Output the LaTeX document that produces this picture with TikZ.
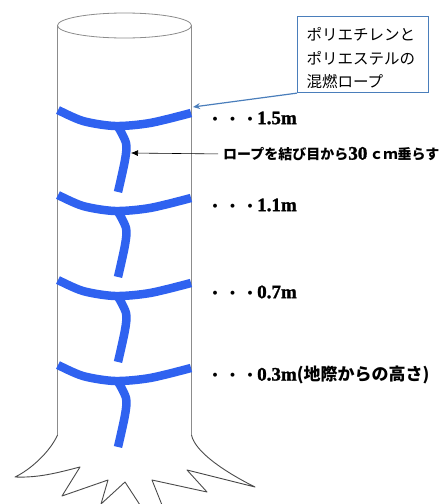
\documentclass[tikz,border=0pt]{standalone}
\usepackage{fontspec}
\setmainfont{Liberation Serif}
\newfontfamily\jpfont{Noto Sans CJK JP}
\newfontfamily\numfont{Liberation Serif}[BoldFeatures={FakeBold=1.5}]
\usetikzlibrary{arrows.meta}

\definecolor{ropeblue}{HTML}{2F62F0}
\definecolor{calloutblue}{HTML}{4A7EBB}
\definecolor{bark}{HTML}{8C8C8C}
\definecolor{rootline}{HTML}{4A4A4A}

\newcommand{\jpbold}{\jpfont\bfseries\fontsize{14}{16}\selectfont}
\newcommand{\numbold}{\numfont\bfseries\fontsize{19}{20}\selectfont}
\newcommand{\lvl}[1]{{\jpbold ・\kern3.5pt・\kern3.5pt・}{\numbold #1}}

\tikzset{
  ropeline/.style={draw=ropeblue, line width=8.5pt},
  height/.style={anchor=west, inner sep=0pt},
}

\begin{document}
\begin{tikzpicture}[x=1pt,y=-1pt]
  \useasboundingbox (0,0) rectangle (445,504);
  % trunk
  \draw[bark, line width=0.8pt] (124.5,25.5) ellipse [x radius=67pt, y radius=12.5pt];
  \draw[bark, line width=0.8pt] (57.5,25.5) -- (57.5,435) (191.5,25.5) -- (191.5,435);
  % roots
  \draw[rootline, line width=0.9pt, line join=round]
    (57.5,435) .. controls (50,452) and (30,470) .. (15,477)
    .. controls (40,478) and (60,472) .. (80,467) -- (62,496) -- (108,480)
    -- (101,504) -- (125,482) -- (140,505)
    (162,505) -- (152,480) -- (207,492) -- (187,470) -- (255,487)
    .. controls (225,472) and (195,452) .. (191.5,435);
  % ropes, one every 85pt
  \foreach \dy in {0,85,170,255} {
    \begin{scope}[shift={(0,\dy)}]
      \draw[ropeline] plot[smooth] coordinates {(58,110) (83,121) (115,126) (150,123) (191,113)};
      \draw[ropeline] plot[smooth] coordinates {(117,125) (126,143) (125,160) (118,192)};
    \end{scope}
  }
  % heights
  \node[height] (h15) at (208,118) {\lvl{1.5m}};
  \node[height] (h11) at (208,205) {\lvl{1.1m}};
  \node[height] (h07) at (208,292) {\lvl{0.7m}};
  \node[height] (h03) at (208,375)
    {\lvl{0.3m}{\jpfont\bfseries\fontsize{17}{19}\selectfont (地際からの高さ)}};
  % hanging end
  \coordinate (knot) at (131,153);
  \node[height] (drop) at (223,154) {\jpbold ロープを結び目から{\numbold 30}\,ｃｍ垂らす};
  \draw[-{Latex[length=7pt,width=6pt]}, line width=0.6pt, shorten <=5pt] (drop.west) -- (knot);
  % material note
  \coordinate (ropeend) at (193,107);
  \node[draw=calloutblue, line width=1.2pt, anchor=north west, minimum width=131pt,
        minimum height=75pt, inner xsep=9pt, text width=113pt, align=left,
        font=\jpfont\fontsize{15.5}{23.5}\selectfont] (note) at (297,16)
    {\rule{0pt}{21pt}ポリエチレンと\\ポリエステルの\\混燃ロープ};
  \draw[calloutblue, line width=1.2pt, -{Stealth[length=7pt,width=6pt]}] (note.south west) -- (ropeend);
\end{tikzpicture}
\end{document}
